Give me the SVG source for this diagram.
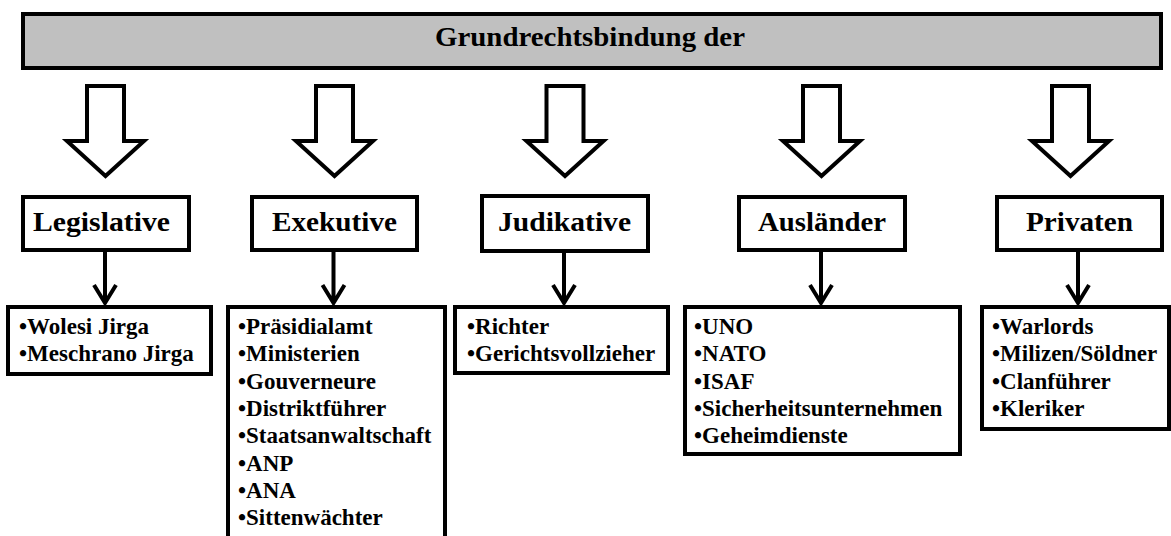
<svg xmlns="http://www.w3.org/2000/svg" width="1171" height="536" viewBox="0 0 1171 536">
<defs>
<style>
.box{fill:#fff;stroke:#000;stroke-width:4}
.banner{fill:#c0c0c0;stroke:#000;stroke-width:4}
.big{fill:#fff;stroke:#000;stroke-width:4;stroke-linejoin:miter}
.ln{fill:none;stroke:#000;stroke-width:4}
.t{font-family:"Liberation Serif","Times New Roman",serif;font-weight:bold;fill:#000}
.h{font-size:27px}
.l{font-size:23px}
</style>
</defs>
<rect width="1171" height="536" fill="#fff"/>
<g id="banner">
<rect class="banner" x="23" y="14" width="1138" height="54"/>
<text class="t h" x="590" y="46" text-anchor="middle" textLength="310" lengthAdjust="spacingAndGlyphs">Grundrechtsbindung der</text>
</g>
<g id="connectors">
<polygon class="big" points="87,86 124,86 124,141 144,141 105.5,176 67,141 87,141"/>
<polygon class="big" points="316,86 353,86 353,141 373,141 334.5,176 296,141 316,141"/>
<polygon class="big" points="546.5,86 583.5,86 583.5,141 603.5,141 565,176 526.5,141 546.5,141"/>
<polygon class="big" points="803,86 840,86 840,141 860,141 821.5,176 783,141 803,141"/>
<polygon class="big" points="1052,86 1089,86 1089,141 1109,141 1070.5,176 1032,141 1052,141"/>
<g class="ln">
<path d="M105,252V303M94,285L105,303L116,285"/>
<path d="M333.5,252V303M322.5,285L333.5,303L344.5,285"/>
<path d="M564,253V303M553,285L564,303L575,285"/>
<path d="M821,252V303M810,285L821,303L832,285"/>
<path d="M1078,252V303M1067,285L1078,303L1089,285"/>
</g>
</g>
<g id="legislative">
<rect class="box" x="23" y="197" width="166" height="53"/>
<text class="t h" x="33" y="231" textLength="137" lengthAdjust="spacingAndGlyphs">Legislative</text>
</g>
<g id="exekutive">
<rect class="box" x="252" y="197" width="165" height="53"/>
<text class="t h" x="272" y="231" textLength="125" lengthAdjust="spacingAndGlyphs">Exekutive</text>
</g>
<g id="judikative">
<rect class="box" x="482" y="196" width="166" height="55"/>
<text class="t h" x="498" y="231" textLength="133" lengthAdjust="spacingAndGlyphs">Judikative</text>
</g>
<g id="auslaender">
<rect class="box" x="739" y="197" width="166" height="53"/>
<text class="t h" x="758" y="231" textLength="128" lengthAdjust="spacingAndGlyphs">Ausländer</text>
</g>
<g id="privaten">
<rect class="box" x="997" y="197" width="165" height="53"/>
<text class="t h" x="1026" y="231" textLength="107" lengthAdjust="spacingAndGlyphs">Privaten</text>
</g>
<g id="legislative-list">
<rect class="box" x="8" y="307" width="203" height="67"/>
<text class="t l"><tspan x="19" y="334">•Wolesi Jirga</tspan><tspan x="19" y="361.3">•Meschrano Jirga</tspan></text>
</g>
<g id="exekutive-list">
<rect class="box" x="228" y="307" width="217" height="260"/>
<text class="t l"><tspan x="238" y="334">•Präsidialamt</tspan><tspan x="238" y="361.3">•Ministerien</tspan><tspan x="238" y="388.6">•Gouverneure</tspan><tspan x="238" y="416">•Distriktführer</tspan><tspan x="238" y="443.3">•Staatsanwaltschaft</tspan><tspan x="238" y="470.6">•ANP</tspan><tspan x="238" y="498">•ANA</tspan><tspan x="238" y="525.3">•Sittenwächter</tspan></text>
</g>
<g id="judikative-list">
<rect class="box" x="455" y="307" width="213" height="66"/>
<text class="t l"><tspan x="467" y="334">•Richter</tspan><tspan x="467" y="361.3">•Gerichtsvollzieher</tspan></text>
</g>
<g id="auslaender-list">
<rect class="box" x="685" y="307" width="275" height="147"/>
<text class="t l"><tspan x="694" y="334">•UNO</tspan><tspan x="694" y="361.3">•NATO</tspan><tspan x="694" y="388.6">•ISAF</tspan><tspan x="694" y="416">•Sicherheitsunternehmen</tspan><tspan x="694" y="443.3">•Geheimdienste</tspan></text>
</g>
<g id="privaten-list">
<rect class="box" x="982" y="307" width="187" height="122"/>
<text class="t l"><tspan x="992" y="334">•Warlords</tspan><tspan x="992" y="361.3">•Milizen/Söldner</tspan><tspan x="992" y="388.6">•Clanführer</tspan><tspan x="992" y="416">•Kleriker</tspan></text>
</g>
</svg>
